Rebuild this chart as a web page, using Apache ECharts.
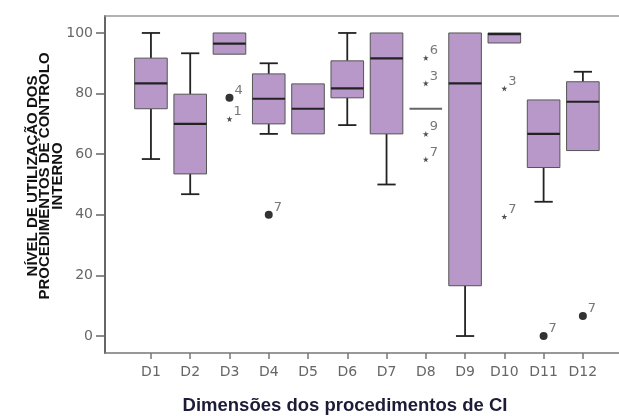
<!DOCTYPE html>
<html lang="pt">
<head>
    <meta charset="UTF-8">
    <title>Boxplot</title>
    <style>
        html, body { margin: 0; padding: 0; background: #fff; }
        #chart { width: 619px; height: 416px; }
    </style>
</head>
<body>
<div id="chart"></div>
<script src="https://cdn.jsdelivr.net/npm/echarts@6/dist/echarts.min.js"></script>
<script>
    var categories = ['D1', 'D2', 'D3', 'D4', 'D5', 'D6', 'D7', 'D8', 'D9', 'D10', 'D11', 'D12'];
    var lowWhisker = [58.4, 46.8, 93, 66.7, 66.7, 69.6, 50, 75, 0, 96.7, 44.3, 61.2];
    var q1 = [75, 53.5, 93, 70, 66.7, 78.6, 66.7, 75, 16.6, 96.7, 55.6, 61.2];
    var median = [83.4, 70, 96.5, 78.3, 75, 81.7, 91.6, 75, 83.4, 99.6, 66.7, 77.3];
    var q3 = [91.7, 79.8, 100, 86.5, 83.2, 90.8, 100, 75, 100, 100, 77.9, 83.9];
    var highWhisker = [100, 93.3, 100, 90, 83.2, 100, 100, 75, 100, 100, 77.9, 87.2];

    // outliers: [category index (1-based), value, case label]
    var circleOutliers = [[3, 78.6, '4'], [4, 40, '7'], [11, 0, '7'], [12, 6.6, '7']];
    var starOutliers = [[3, 71.6, '1'], [8, 91.8, '6'], [8, 83.4, '3'], [8, 66.7, '9'],
        [8, 58.3, '7'], [10, 81.7, '3'], [10, 39.4, '7']];

    var yTicks = [0, 20, 40, 60, 80, 100];
    var xTicks = categories.map(function (c, i) { return i + 1; });

    var boxData = categories.map(function (c, i) {
        return [i + 1, lowWhisker[i], q1[i], median[i], q3[i], highWhisker[i]];
    });

    var starPath = 'path://M50,0 L61,35 L98,35 L68,57 L79,91 L50,70 L21,91 L32,57 L2,35 L39,35 Z';

    function renderBox(params, api) {
        var x = api.value(0);
        var lo = api.value(1), b1 = api.value(2), md = api.value(3), b3 = api.value(4), hi = api.value(5);
        var w = api.size([0.83, 0])[0];
        var half = w / 2;
        var cap = w * 0.28;
        var cx = api.coord([x, 0])[0];
        var y = function (v) { return api.coord([x, v])[1]; };
        var line = {stroke: '#222', lineWidth: 1.8};
        var kids = [];
        if (hi > b3) {
            kids.push({type: 'line', shape: {x1: cx, y1: y(b3), x2: cx, y2: y(hi)}, style: line});
            kids.push({type: 'line', shape: {x1: cx - cap, y1: y(hi), x2: cx + cap, y2: y(hi)}, style: line});
        }
        if (lo < b1) {
            kids.push({type: 'line', shape: {x1: cx, y1: y(b1), x2: cx, y2: y(lo)}, style: line});
            kids.push({type: 'line', shape: {x1: cx - cap, y1: y(lo), x2: cx + cap, y2: y(lo)}, style: line});
        }
        if (b3 > b1) {
            kids.push({
                type: 'rect',
                shape: {x: cx - half, y: y(b3), width: w, height: y(b1) - y(b3)},
                style: {fill: '#b898c9', stroke: '#555', lineWidth: 1}
            });
        }
        kids.push({
            type: 'line',
            shape: {x1: cx - half, y1: y(md), x2: cx + half, y2: y(md)},
            style: {stroke: b3 > b1 ? '#222' : '#666', lineWidth: 2.2}
        });
        return {type: 'group', children: kids};
    }

    var outlierLabel = {
        show: true,
        position: 'right',
        distance: 1,
        offset: [0, -7],
        formatter: function (p) { return p.value[2]; },
        color: '#555',
        fontSize: 13,
        fontFamily: 'DejaVu Sans'
    };

    var option = {
        animation: false,
        grid: {left: 105, right: 0, top: 16, bottom: 63, containLabel: false, outerBoundsMode: 'none'},
        xAxis: [
            {
                type: 'value',
                min: -0.17,
                max: 12.92,
                name: 'Dimensões dos procedimentos de CI',
                nameLocation: 'middle',
                nameGap: 43,
                nameMoveOverlap: false,
                nameTextStyle: {
                    fontSize: 18.5, fontWeight: 'bold', color: '#1c1c38',
                    fontFamily: 'Liberation Sans', padding: [0, 34, 0, 0]
                },
                splitLine: {show: false},
                axisLine: {onZero: false, lineStyle: {color: '#777', width: 1.5}},
                axisTick: {customValues: xTicks, length: 6, lineStyle: {color: '#777', width: 1.5}},
                axisLabel: {
                    customValues: xTicks,
                    margin: 12,
                    color: '#666',
                    fontSize: 14,
                    fontFamily: 'DejaVu Sans',
                    formatter: function (v) { return categories[v - 1]; }
                }
            },
            {
                type: 'value',
                position: 'top',
                min: -0.17,
                max: 12.92,
                splitLine: {show: false},
                axisLine: {onZero: false, lineStyle: {color: '#999', width: 1.5}},
                axisTick: {show: false},
                axisLabel: {show: false}
            }
        ],
        yAxis: {
            type: 'value',
            min: -5.6,
            max: 105.6,
            name: 'NÍVEL DE UTILIZAÇÃO DOS\nPROCEDIMENTOS DE CONTROLO\nINTERNO',
            nameLocation: 'middle',
            nameGap: 41,
            nameMoveOverlap: false,
            nameTextStyle: {
                fontSize: 15, fontWeight: 'bold', color: '#111',
                fontFamily: 'Liberation Sans', lineHeight: 12.5,
                padding: [0, 0, 0, 17]
            },
            splitLine: {show: false},
            axisLine: {onZero: false, lineStyle: {color: '#666', width: 2}},
            axisTick: {customValues: yTicks, length: 9, lineStyle: {color: '#666', width: 1.5}},
            axisLabel: {
                customValues: yTicks,
                margin: 12,
                color: '#666',
                fontSize: 14,
                fontFamily: 'DejaVu Sans'
            }
        },
        series: [
            {
                type: 'custom',
                renderItem: renderBox,
                encode: {x: 0, y: [1, 2, 3, 4, 5]},
                data: boxData,
                z: 2
            },
            {
                type: 'scatter',
                symbol: 'circle',
                symbolSize: 8,
                itemStyle: {color: '#000'},
                label: outlierLabel,
                data: circleOutliers,
                z: 3
            },
            {
                type: 'scatter',
                symbol: starPath,
                symbolSize: 6,
                itemStyle: {color: '#222'},
                label: outlierLabel,
                data: starOutliers,
                z: 3
            }
        ]
    };

    var myChart = echarts.init(document.getElementById('chart'));
    myChart.setOption(option);
</script>
</body>
</html>
